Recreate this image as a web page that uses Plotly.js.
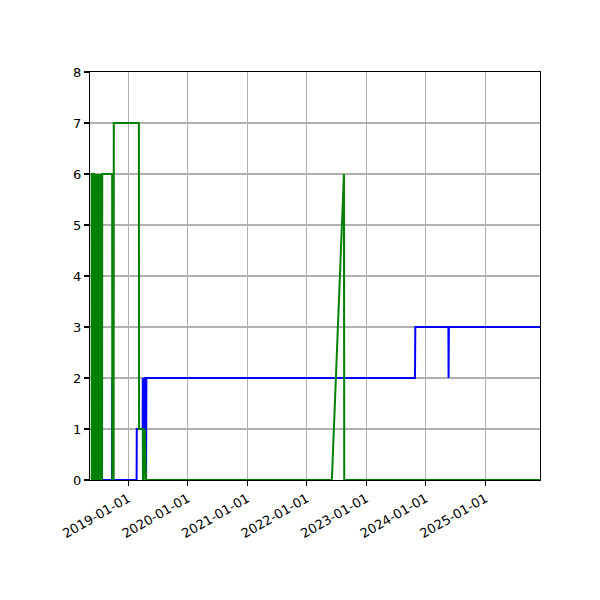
<!DOCTYPE html>
<html>
<head>
<meta charset="utf-8">
<script src="https://cdn.plot.ly/plotly-3.0.1.min.js"></script>
<style>
  html, body { margin: 0; padding: 0; background: #fff; }
  #plot { width: 600px; height: 600px; }
</style>
</head>
<body>
<div id="plot"></div>
<script>
// blue series
var blueDates = [
  '2018-05-30', '2018-06-01', '2018-06-06',
  '2018-09-24', '2018-09-26', '2018-09-28',
  '2019-02-22', '2019-02-23', '2019-03-31', '2019-04-01',
  '2019-04-04', '2019-04-06', '2019-04-09', '2019-04-11',
  '2019-04-20', '2019-04-21', '2019-04-23',
  '2023-10-27', '2023-10-29',
  '2024-05-19', '2024-05-20', '2024-05-22',
  '2025-12-02'
];
var blueValues = [
  0, 2, 0,
  0, 2, 0,
  0, 1, 1, 2,
  1, 2, 1, 2,
  2, 0, 2,
  2, 3,
  3, 2, 3,
  3
];

// green series
var greenDates = [
  '2018-05-22', '2018-05-23', '2018-05-25', '2018-05-27', '2018-05-28',
  '2018-05-30', '2018-06-01', '2018-06-03', '2018-06-06', '2018-06-07',
  '2018-06-14', '2018-06-15', '2018-06-17', '2018-06-19', '2018-06-21',
  '2018-06-23', '2018-06-25', '2018-06-27', '2018-06-29', '2018-07-01',
  '2018-07-03', '2018-07-05', '2018-07-07', '2018-07-09', '2018-07-11',
  '2018-07-13', '2018-07-15', '2018-07-17', '2018-07-19', '2018-07-21',
  '2018-07-23', '2018-07-25', '2018-07-26',
  '2018-09-25', '2018-09-26', '2018-10-04', '2018-10-05',
  '2019-03-08', '2019-03-09', '2019-04-01', '2019-04-02', '2019-04-04',
  '2019-04-07', '2019-04-09', '2019-04-13', '2019-04-21',
  '2022-06-04', '2022-08-17', '2022-08-19',
  '2025-12-02'
];
var greenValues = [
  6, 0, 6, 6, 0,
  6, 0, 6, 6, 0,
  0, 6, 0, 6, 0,
  6, 0, 6, 0, 6,
  0, 6, 0, 6, 0,
  6, 0, 6, 0, 6,
  0, 0, 6,
  6, 0, 0, 7,
  7, 1, 1, 0, 1,
  0, 1, 1, 0,
  0, 6, 0,
  0
];

var xRange = ['2018-05-12', '2025-12-02'];
var yRange = [0, 8];

var traces = [
  {
    x: blueDates, y: blueValues, type: 'scatter', mode: 'lines',
    line: {color: '#0000ff', width: 2}, hoverinfo: 'skip'
  },
  {
    x: greenDates, y: greenValues, type: 'scatter', mode: 'lines',
    line: {color: '#008000', width: 2}, hoverinfo: 'skip'
  }
];

var axisStyle = {
  showgrid: true, gridcolor: '#b0b0b0', gridwidth: 1.1,
  showline: true, linecolor: '#000', linewidth: 1.1, mirror: true,
  ticks: 'outside', ticklen: 5, tickwidth: 1.1, tickcolor: '#000',
  zeroline: false,
  tickfont: {family: 'DejaVu Sans', size: 13, color: '#000'}
};

var layout = {
  width: 600, height: 600,
  margin: {l: 90, r: 60, t: 72, b: 120},
  paper_bgcolor: '#fff', plot_bgcolor: '#fff',
  showlegend: false,
  xaxis: Object.assign({}, axisStyle, {
    type: 'date', range: xRange,
    tick0: '2019-01-01', dtick: 'M12', tickformat: '%Y-%m-%d',
    tickangle: -30
  }),
  yaxis: Object.assign({}, axisStyle, {
    range: yRange, dtick: 1, tick0: 0
  })
};

Plotly.newPlot('plot', traces, layout, {staticPlot: true, displayModeBar: false});
</script>
</body>
</html>
